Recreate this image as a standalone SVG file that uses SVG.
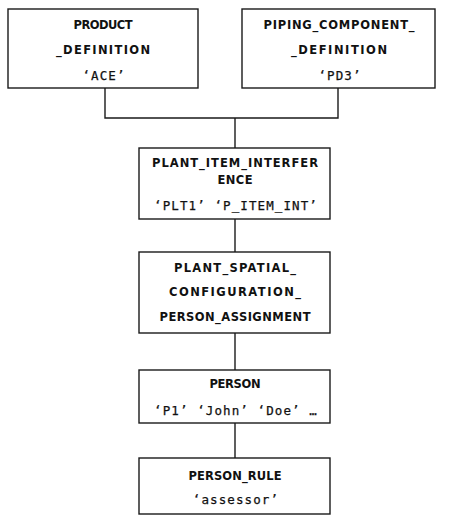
<svg xmlns="http://www.w3.org/2000/svg" width="450" height="522" viewBox="0 0 450 522">
<style>
.box{fill:#fff;stroke:#1a1a1a;stroke-width:1.4}
.ln{fill:none;stroke:#1a1a1a;stroke-width:1.4}
.b{font-family:"DejaVu Sans",sans-serif;font-weight:bold;font-size:11.5px;fill:#111;text-anchor:middle}
.q{font-family:"DejaVu Sans Mono",monospace;font-size:12.5px;letter-spacing:1.1px;fill:#111;stroke:#111;stroke-width:0.25px;text-anchor:middle}
</style>
<rect width="450" height="522" fill="#fff"/>
<g id="connectors">
<polyline class="ln" points="105,88 105,118 338,118 338,88"/>
<line class="ln" x1="235" y1="118" x2="235" y2="148"/>
<line class="ln" x1="235" y1="219" x2="235" y2="252"/>
<line class="ln" x1="235" y1="333" x2="235" y2="370"/>
<line class="ln" x1="235" y1="423" x2="235" y2="458"/>
</g>
<g id="product_definition">
<rect class="box" x="8" y="9" width="190" height="79"/>
<text class="b" x="103" y="29" textLength="59" lengthAdjust="spacing">PRODUCT</text>
<text class="b" x="103" y="54" textLength="94" lengthAdjust="spacing">_DEFINITION</text>
<text class="q" x="104" y="80">‘ACE’</text>
</g>
<g id="piping_component_definition">
<rect class="box" x="242" y="9" width="193" height="79"/>
<text class="b" x="339" y="29" textLength="151" lengthAdjust="spacing">PIPING_COMPONENT_</text>
<text class="b" x="339" y="54" textLength="96" lengthAdjust="spacing">_DEFINITION</text>
<text class="q" x="340" y="80">‘PD3’</text>
</g>
<g id="plant_item_interference">
<rect class="box" x="139" y="148" width="191" height="71"/>
<text class="b" x="235" y="167" textLength="166" lengthAdjust="spacing">PLANT_ITEM_INTERFER</text>
<text class="b" x="235" y="184" textLength="35" lengthAdjust="spacing">ENCE</text>
<text class="q" x="236" y="210">‘PLT1’ ‘P_ITEM_INT’</text>
</g>
<g id="plant_spatial_configuration_person_assignment">
<rect class="box" x="139" y="252" width="191" height="81"/>
<text class="b" x="235" y="272" textLength="122" lengthAdjust="spacing">PLANT_SPATIAL_</text>
<text class="b" x="235" y="296" textLength="132" lengthAdjust="spacing">CONFIGURATION_</text>
<text class="b" x="235" y="321" textLength="151" lengthAdjust="spacing">PERSON_ASSIGNMENT</text>
</g>
<g id="person">
<rect class="box" x="139" y="370" width="191" height="53"/>
<text class="b" x="235" y="388" textLength="51" lengthAdjust="spacing">PERSON</text>
<text class="q" x="236" y="415">‘P1’ ‘John’ ‘Doe’ …</text>
</g>
<g id="person_rule">
<rect class="box" x="139" y="458" width="191" height="56"/>
<text class="b" x="235" y="480" textLength="93" lengthAdjust="spacing">PERSON_RULE</text>
<text class="q" x="236" y="504">‘assessor’</text>
</g>
</svg>
